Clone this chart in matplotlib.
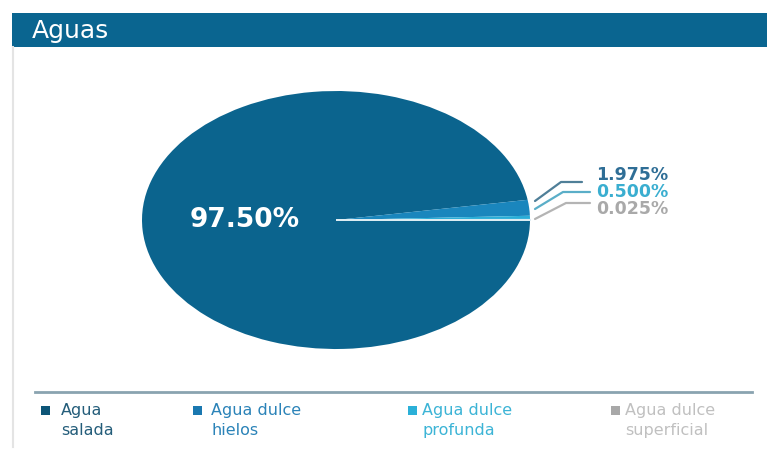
import matplotlib
matplotlib.use("Agg")
import matplotlib.pyplot as plt
from matplotlib.patches import Rectangle
from matplotlib.lines import Line2D

# ---- data ----
title = "Aguas"
categories = ["Agua\nsalada", "Agua dulce\nhielos", "Agua dulce\nprofunda", "Agua dulce\nsuperficial"]
values = [97.5, 1.975, 0.5, 0.025]

# ---- style ----
wedge_colors = ["#0b648e", "#1a86bd", "#2aaed8", "#dcecf2"]
label_colors = ["#ffffff", "#2f6e96", "#3aaed0", "#a9a9a9"]
leader_colors = ["#4f7f98", "#5aaec8", "#b4b4b4"]
legend_marker_colors = ["#0d5577", "#1a78b0", "#2bb0d8", "#a8a8a8"]
legend_text_colors = ["#245d7a", "#2b83b8", "#3cb4d6", "#c0c0c0"]
header_color = "#0a6590"

W, H = 767, 452
fig = plt.figure(figsize=(W / 100, H / 100), dpi=100)
fig.patch.set_facecolor("white")

def fx(px):
    return px / W

def fy(py):
    return 1 - py / H

# panel left border
fig.add_artist(Line2D([fx(13), fx(13)], [fy(48), fy(448)], color="#e4e4e4", lw=1.5))
# header bar
fig.add_artist(Rectangle((fx(12), fy(48)), fx(W) - fx(12), fy(14) - fy(48),
                         transform=fig.transFigure, color=header_color, lw=0))
fig.text(fx(32), fy(31), title, color="white", fontsize=18, va="center", ha="left",
         family="DejaVu Sans")

# ---- pie (elliptical) ----
cx, cy, rx, ry = 336, 221, 194, 129
ax = fig.add_axes([fx(cx - rx), fy(cy + ry), (2 * rx) / W, (2 * ry) / H])
wedges, texts, autotexts = ax.pie(
    values, colors=wedge_colors, startangle=0, counterclock=False,
    autopct=lambda p: f"{p:.2f}%" if p > 50 else "", pctdistance=0.47,
    wedgeprops=dict(linewidth=0), textprops=dict(color="white"))
for t in autotexts:
    t.set_fontsize(19)
    t.set_fontweight("bold")
    t.set_family("DejaVu Sans")
    t.set_y(0.01)
wedges[3].set_edgecolor(wedge_colors[3])
wedges[3].set_linewidth(1.3)
ax.set_aspect("auto")
ax.set_xlim(-1, 1)
ax.set_ylim(-1, 1)
ax.axis("off")

# outside labels with leader lines
def dx(px):
    return (px - cx) / rx

def dy(py):
    return (cy - py) / ry

starts_y = [202, 210, 220]
elbows = [(561, 183), (563, 193), (566, 204)]
ends_x = [582, 590, 590]
label_y = [175, 192, 209]
for i, v in enumerate(values[1:]):
    sx, sy = dx(535), dy(starts_y[i])
    ex, ey = dx(elbows[i][0]), dy(elbows[i][1])
    tx = dx(ends_x[i])
    ax.plot([sx, ex, tx], [sy, ey, ey], color=leader_colors[i], lw=1.6, clip_on=False,
            solid_capstyle="round")
    ax.text(dx(596), dy(label_y[i]), f"{v:.3f}%", color=label_colors[i + 1],
            fontsize=12.5, fontweight="bold", va="center", ha="left",
            family="DejaVu Sans", clip_on=False)

# ---- legend ----
fig.add_artist(Line2D([fx(35), fx(752)], [fy(393), fy(393)], color="#8aa3b0", lw=2))
marker_x = [41, 193, 408, 611]
text_x = [61, 211, 422, 625]
for i, cat in enumerate(categories):
    fig.add_artist(Rectangle((fx(marker_x[i]), fy(416)), fx(9), fy(407) - fy(416),
                             transform=fig.transFigure, color=legend_marker_colors[i], lw=0))
    fig.text(fx(text_x[i]), fy(403), cat, color=legend_text_colors[i], fontsize=11.5,
             va="top", ha="left", linespacing=1.45, family="DejaVu Sans")

fig.savefig("out.png", dpi=100, facecolor="white")
